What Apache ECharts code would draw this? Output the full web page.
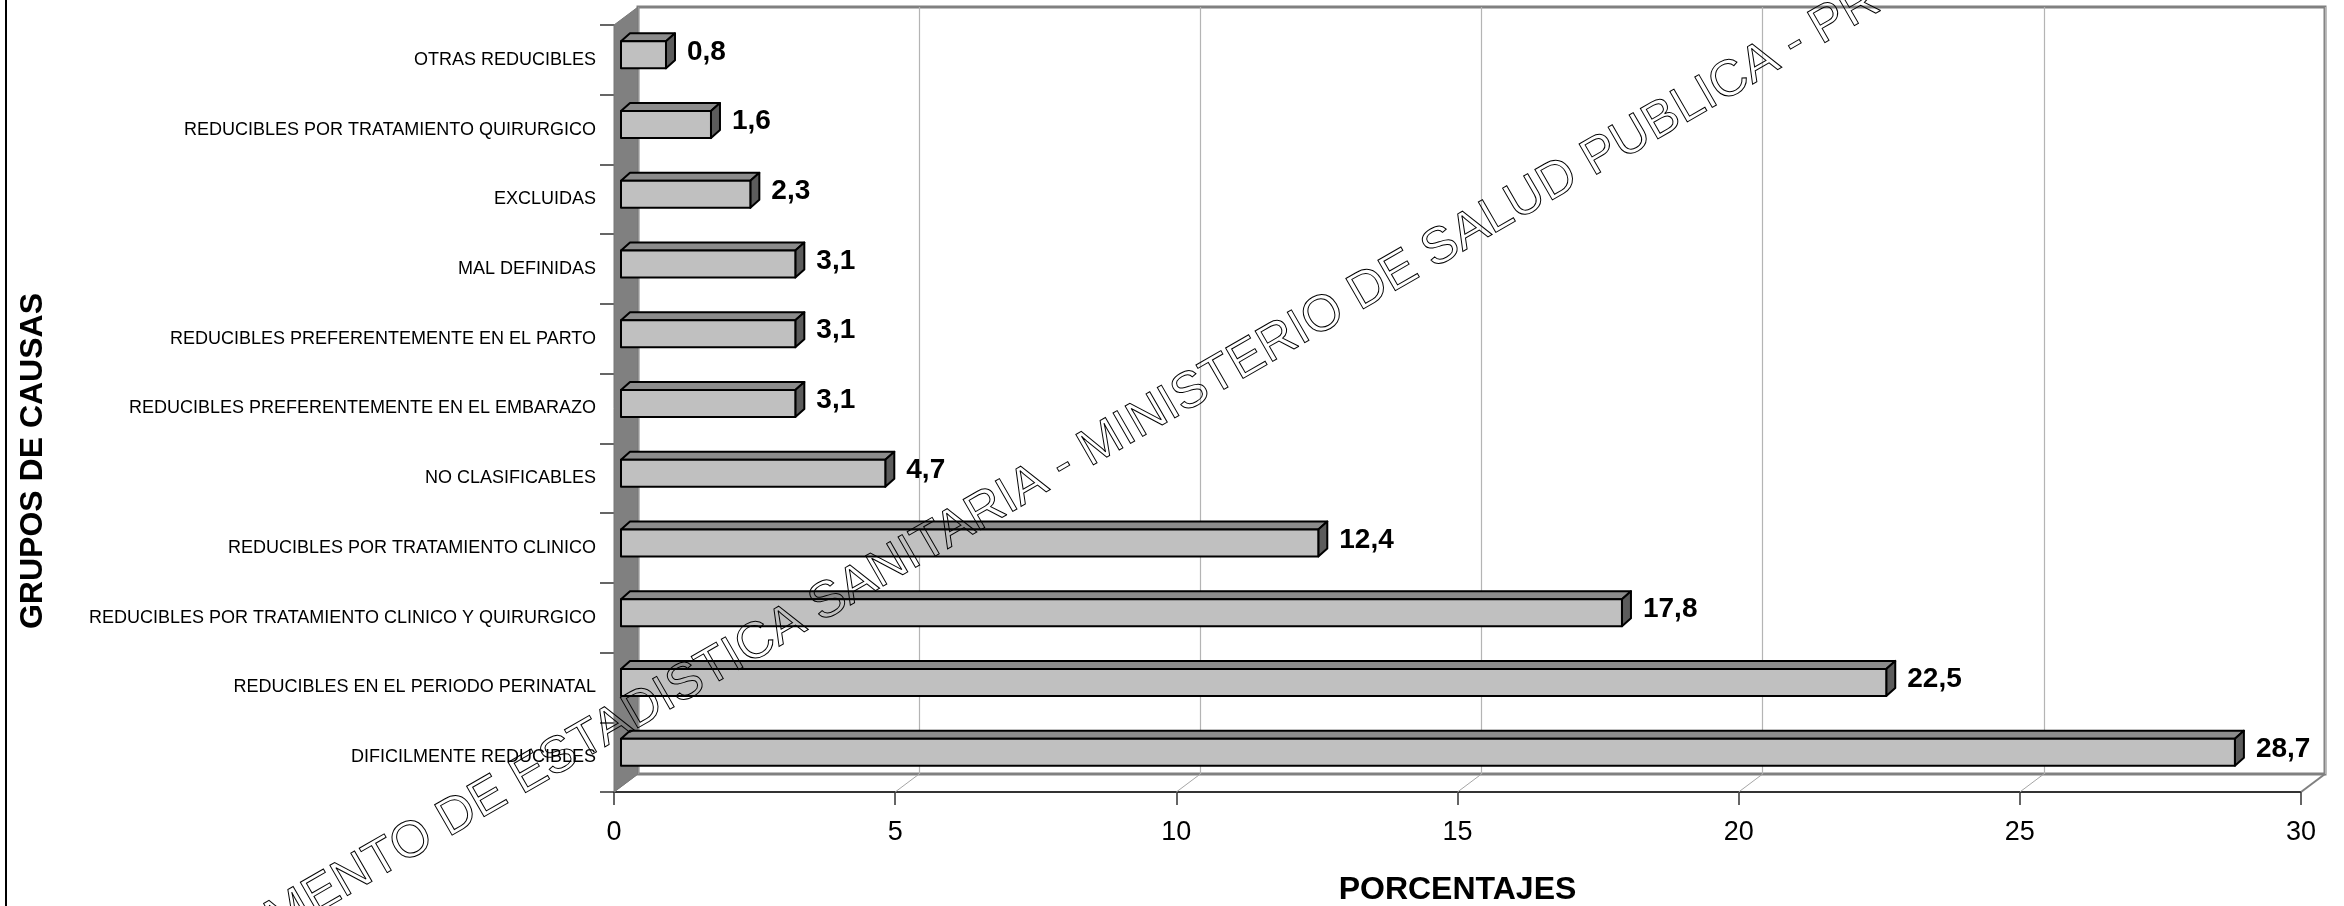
<!DOCTYPE html>
<html><head><meta charset="utf-8">
<script src="https://cdn.jsdelivr.net/npm/echarts@6/dist/echarts.min.js"></script>
<style>html,body{margin:0;padding:0;background:#fff}#c{width:2344px;height:906px}</style>
</head><body><div id="c"></div>
<script>
// ---- data ----
const categories = [
  'OTRAS REDUCIBLES',
  'REDUCIBLES POR TRATAMIENTO QUIRURGICO',
  'EXCLUIDAS',
  'MAL DEFINIDAS',
  'REDUCIBLES PREFERENTEMENTE EN EL PARTO',
  'REDUCIBLES PREFERENTEMENTE EN EL EMBARAZO',
  'NO CLASIFICABLES',
  'REDUCIBLES POR TRATAMIENTO CLINICO',
  'REDUCIBLES POR TRATAMIENTO CLINICO Y QUIRURGICO',
  'REDUCIBLES EN EL PERIODO PERINATAL',
  'DIFICILMENTE REDUCIBLES'
];
const values = [0.8, 1.6, 2.3, 3.1, 3.1, 3.1, 4.7, 12.4, 17.8, 22.5, 28.7];
const xTicks = [0, 5, 10, 15, 20, 25, 30];
const xAxisTitle = 'PORCENTAJES';
const yAxisTitle = 'GRUPOS DE CAUSAS';
const watermarkText = 'DEPARTAMENTO DE ESTADISTICA SANITARIA - MINISTERIO DE SALUD PUBLICA - PR';

// ---- drawing ----
const FONT = '"Liberation Sans", Arial, sans-serif';
const DX = 24, DY = 18;          // depth of the 3D box
const fmt = v => v.toFixed(1).replace('.', ',');

const chart = echarts.init(document.getElementById('c'), null, {renderer: 'canvas'});

function renderFrame(params, api) {
  const cs = params.coordSys;
  const bottom = cs.y + cs.height, top = cs.y;
  const v = api.value(0);
  const p = api.coord([v, 0]);
  const children = [];
  const last = params.dataIndex === xTicks.length - 1;
  children.push({type: 'line', shape: {x1: p[0], y1: bottom, x2: p[0] + DX, y2: bottom - DY},
    style: {stroke: last ? '#808080' : '#a6a6a6', lineWidth: last ? 2 : 1}});
  if (params.dataIndex === 0) {
    children.push({type: 'polygon', shape: {points: [[p[0], top], [p[0] + DX, top - DY], [p[0] + DX, bottom - DY], [p[0], bottom]]},
      style: {fill: '#808080', stroke: '#777', lineWidth: 1}});
  }
  return {type: 'group', children};
}

function renderBar(params, api) {
  const v = api.value(0), i = api.value(1);
  const p0 = api.coord([0, i]), p1 = api.coord([v, i]);
  const h = 27, dx = 9, dy = 8;
  const x0 = p0[0] + 7, x1 = p1[0] + 7;
  const yc = p0[1] - 5;
  const yt = yc - h / 2, yb = yc + h / 2;
  const st = {stroke: '#000', lineWidth: 2, lineJoin: 'round'};
  return {type: 'group', children: [
    {type: 'polygon', shape: {points: [[x0, yt], [x0 + dx, yt - dy], [x1 + dx, yt - dy], [x1, yt]]}, style: Object.assign({fill: '#8c8c8c'}, st)},
    {type: 'polygon', shape: {points: [[x1, yt], [x1 + dx, yt - dy], [x1 + dx, yb - dy], [x1, yb]]}, style: Object.assign({fill: '#5c5c5c'}, st)},
    {type: 'rect', shape: {x: x0, y: yt, width: x1 - x0, height: h}, style: Object.assign({fill: '#c0c0c0'}, st)},
    {type: 'text', x: x1 + dx + 12, y: yc - 3,
      style: {text: fmt(v), font: 'bold 28px ' + FONT, fill: '#000', align: 'left', verticalAlign: 'middle'}}
  ]};
}

const option = {
  backgroundColor: '#fff',
  animation: false,
  textStyle: {fontFamily: FONT},
  grid: [
    {left: 614, right: 43, top: 25, bottom: 114, outerBoundsMode: 'none', containLabel: false},
    {left: 614 + DX, right: 43 - DX, top: 25 - DY, bottom: 114 + DY, outerBoundsMode: 'none', containLabel: false,
      show: true, borderColor: '#808080', borderWidth: 3, backgroundColor: 'transparent'}
  ],
  xAxis: [
    {gridIndex: 0, type: 'value', min: 0, max: 30, interval: 5,
      name: xAxisTitle, nameLocation: 'middle', nameGap: 82,
      nameTextStyle: {fontSize: 32, fontWeight: 'bold', color: '#000', fontFamily: FONT},
      axisLine: {show: true, lineStyle: {color: '#333', width: 2}},
      axisTick: {show: true, length: 13, lineStyle: {color: '#333', width: 1.5}},
      axisLabel: {fontSize: 27, color: '#000', margin: 27, fontFamily: FONT},
      splitLine: {show: false}},
    {gridIndex: 1, type: 'value', min: 0, max: 30, interval: 5,
      axisLine: {show: false}, axisTick: {show: false}, axisLabel: {show: false},
      splitLine: {show: true, lineStyle: {color: '#b4b4b4', width: 1.2}}}
  ],
  yAxis: [
    {gridIndex: 0, type: 'category', data: categories, inverse: true,
      axisLine: {show: true, lineStyle: {color: '#555', width: 1}},
      axisTick: {show: true, length: 14, lineStyle: {color: '#333', width: 1.5}},
      axisLabel: {fontSize: 18, color: '#000', margin: 18, fontFamily: FONT},
      splitLine: {show: false}},
    {gridIndex: 1, type: 'category', data: categories, inverse: true, show: false}
  ],
  series: [
    {type: 'custom', name: 'frame', xAxisIndex: 0, yAxisIndex: 0, z: 1,
      data: xTicks.map(v => [v]), renderItem: renderFrame, silent: true},
    {type: 'custom', name: 'porcentaje', xAxisIndex: 0, yAxisIndex: 0, z: 3,
      data: values.map((v, i) => [v, i]), renderItem: renderBar}
  ],
  graphic: [
    {type: 'line', shape: {x1: 6, y1: 0, x2: 6, y2: 906}, style: {stroke: '#000', lineWidth: 2}, z: 50},
    {type: 'text', x: 33, y: 461, rotation: Math.PI / 2, z: 50,
      style: {text: yAxisTitle, font: 'bold 32px ' + FONT, fill: '#000', align: 'center', verticalAlign: 'middle'}},
    {type: 'text', x: 82, y: 1062, rotation: 30 * Math.PI / 180, z: 100, silent: true,
      style: {text: watermarkText, font: '51px ' + FONT, fill: 'rgba(0,0,0,0)', stroke: '#000', lineWidth: 1,
        align: 'left', verticalAlign: 'bottom'}}
  ]
};
chart.setOption(option);
</script>
</body></html>
